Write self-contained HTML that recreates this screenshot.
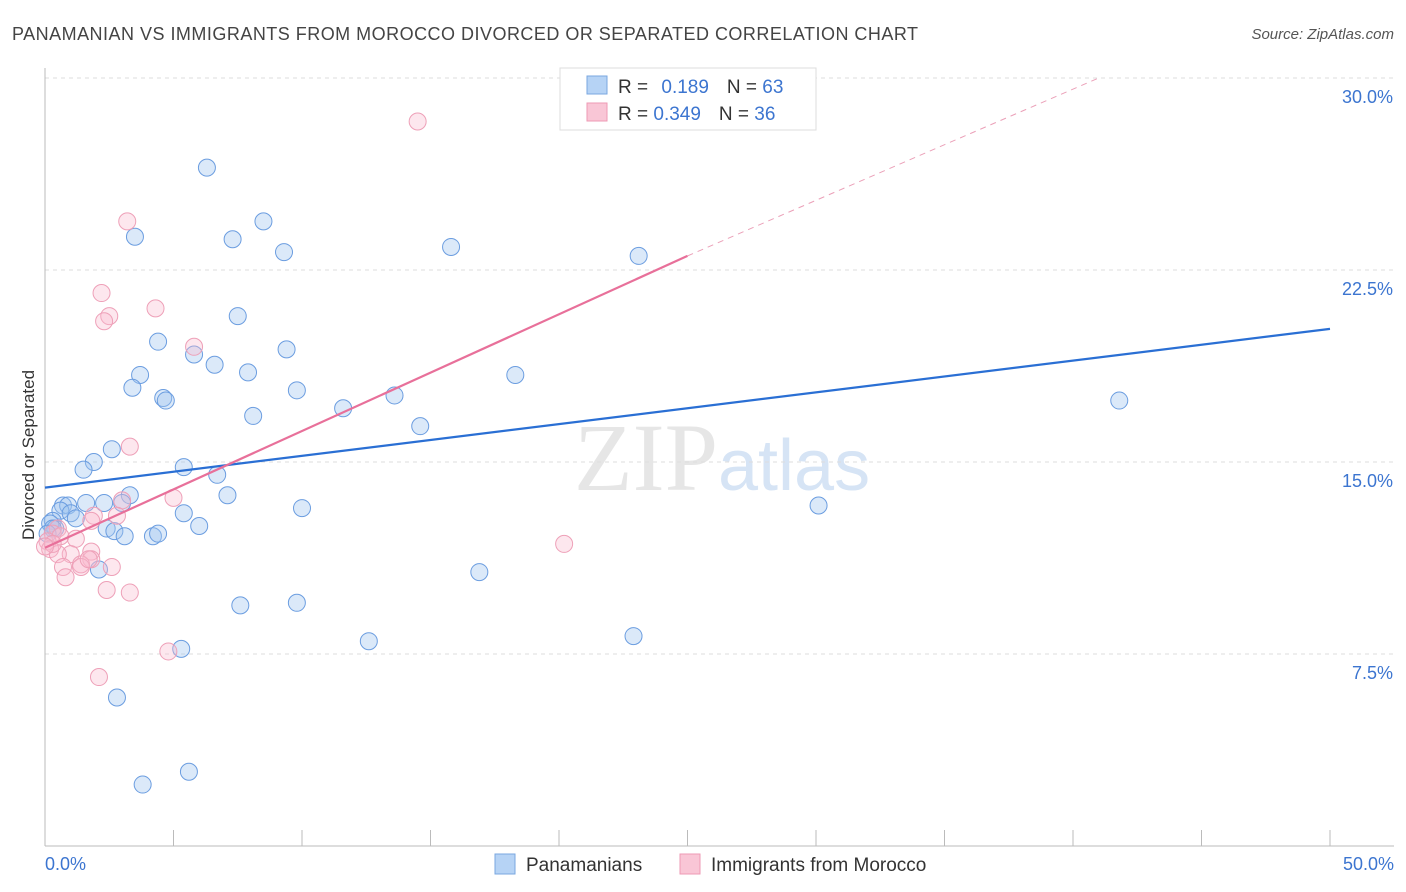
<!DOCTYPE html>
<html><head><meta charset="utf-8"><style>
body{margin:0;background:#fff;font-family:"Liberation Sans",sans-serif}
svg{display:block}
</style></head><body>
<svg id="chart" width="1406" height="892">
<text x="12" y="40" font-size="18" fill="#444" textLength="906">PANAMANIAN VS IMMIGRANTS FROM MOROCCO DIVORCED OR SEPARATED CORRELATION CHART</text>
<text x="1394" y="39" font-size="15" fill="#555" font-style="italic" text-anchor="end">Source: ZipAtlas.com</text>
<text x="718" y="490" font-size="96" fill="#e6e6e6" text-anchor="end" font-family="Liberation Serif">ZIP</text>
<text x="718" y="490" font-size="72" fill="#d6e4f5">atlas</text>
<g id="grid"></g><g id="axes"></g><g id="pts"></g><g id="lines"></g>
<text x="34" y="455" font-size="17" fill="#333" text-anchor="middle" transform="rotate(-90 34 455)">Divorced or Separated</text>
<g>
<rect x="560" y="68" width="256" height="62" fill="#fff" stroke="#ddd"/>
<rect x="587" y="76" width="20" height="18" fill="#b6d3f5" stroke="#7aa7e0"/>
<rect x="587" y="103" width="20" height="18" fill="#f9c6d6" stroke="#ee9ab4"/>
<text x="618" y="93" font-size="19" fill="#333">R = <tspan fill="#3c75d0" dx="8">0.189</tspan><tspan fill="#333" dx="18">N = </tspan><tspan fill="#3c75d0">63</tspan></text>
<text x="618" y="120" font-size="19" fill="#333">R = <tspan fill="#3c75d0">0.349</tspan><tspan fill="#333" dx="18">N = </tspan><tspan fill="#3c75d0">36</tspan></text>
</g>
<g>
<rect x="495" y="854" width="20" height="20" fill="#b6d3f5" stroke="#7aa7e0"/>
<text x="526" y="871" font-size="19" fill="#333">Panamanians</text>
<rect x="680" y="854" width="20" height="20" fill="#f9c6d6" stroke="#ee9ab4"/>
<text x="711" y="871" font-size="19" fill="#333">Immigrants from Morocco</text>
</g>
</svg>
<script>
const yTicks=[7.5,15,22.5,30];
const yTickLabels=["7.5%","15.0%","22.5%","30.0%"];
const xTickLabels=["0.0%","50.0%"];
const blueX=[6.3,8.5,3.5,7.3,9.3,15.8,23.1,7.5,4.4,9.4,5.8,6.6,7.9,3.7,18.3,3.4,9.8,4.6,4.7,13.6,11.6,8.1,14.6,41.8,2.6,1.9,1.5,5.4,6.7,3.3,7.1,0.7,0.9,1.6,2.3,3.0,30.1,10.0,0.6,1.0,5.4,0.3,1.2,0.2,6.0,2.4,2.7,3.1,4.2,4.4,0.4,2.1,7.6,9.8,16.9,12.6,22.9,5.3,2.8,5.6,3.8,0.3,0.1];
const blueY=[26.5,24.4,23.8,23.7,23.2,23.4,23.05,20.7,19.7,19.4,19.2,18.8,18.5,18.4,18.4,17.9,17.8,17.5,17.4,17.6,17.1,16.8,16.4,17.4,15.5,15.0,14.7,14.8,14.5,13.7,13.7,13.3,13.3,13.4,13.4,13.4,13.3,13.2,13.1,13.0,13.0,12.7,12.8,12.6,12.5,12.4,12.3,12.1,12.1,12.2,12.4,10.8,9.4,9.5,10.7,8.0,8.2,7.7,5.8,2.9,2.4,12.4,12.2];
const pinkX=[14.5,3.2,2.2,4.3,2.5,2.3,5.8,3.3,5.0,3.0,1.9,1.8,0.5,0.3,0.6,0.1,1.2,0.2,1.8,1.0,0.5,1.8,1.4,0.7,1.4,2.6,1.7,0.8,2.4,3.3,20.2,4.8,2.1,0.3,0.0,2.8];
const pinkY=[28.3,24.4,21.6,21.0,20.7,20.5,19.5,15.6,13.6,13.5,12.9,12.7,12.4,12.2,12.1,11.9,12.0,11.6,11.5,11.4,11.4,11.2,11.0,10.9,10.9,10.9,11.2,10.5,10.0,9.9,11.8,7.6,6.6,11.8,11.7,12.9];
const NS="http://www.w3.org/2000/svg";
const X=v=>45+v*25.7, Y=v=>846-v*25.6;
function mk(tag,attrs,parent){const e=document.createElementNS(NS,tag);for(const k in attrs)e.setAttribute(k,attrs[k]);parent.appendChild(e);return e;}
const grid=document.getElementById('grid'),axes=document.getElementById('axes'),pts=document.getElementById('pts'),lines=document.getElementById('lines');
yTicks.forEach((t,i)=>{
 const l=mk('line',{x1:45,x2:1394,y1:Y(t),y2:Y(t),stroke:'#ddd','stroke-dasharray':'4 4'},grid);
 
 
 const tx=mk('text',{x:1393,y:Y(t)+25,'font-size':18,fill:'#3c75d0','text-anchor':'end'},grid);
 tx.textContent=yTickLabels[i];
 
 
});
const ax=mk('line',{x1:45,x2:45,y1:68,y2:846,stroke:'#bbb'},axes);


const bx=mk('line',{x1:45,x2:1394,y1:846,y2:846,stroke:'#bbb'},axes);


for(let i=0;i<=10;i++){
 const t=mk('line',{x1:X(i*5),x2:X(i*5),y1:830,y2:846,stroke:'#bbb'},axes);
 
 
}
[[0,'start',45],[50,'end',1394]].forEach((d,i)=>{
 const tx=mk('text',{x:d[2],y:870,'font-size':18,fill:'#3c75d0','text-anchor':d[1]},axes);
 tx.textContent=xTickLabels[i];
 
 
});
blueX.forEach((v,i)=>{
 const c=mk('circle',{cx:X(v),cy:Y(blueY[i]),r:8.5,fill:'rgba(160,196,240,0.38)',stroke:'#6b9de0','stroke-width':1},pts);
 
 
});
pinkX.forEach((v,i)=>{
 const c=mk('circle',{cx:X(v),cy:Y(pinkY[i]),r:8.5,fill:'rgba(248,185,205,0.35)',stroke:'#eea0b8','stroke-width':1},pts);
 
 
});
const b=mk('line',{x1:X(0),y1:Y(14.0),x2:X(50),y2:Y(20.2),stroke:'#2a6fd4','stroke-width':2.2},lines);


const p=mk('line',{x1:X(0),y1:Y(11.65),x2:X(25),y2:Y(23.05),stroke:'#e8709a','stroke-width':2.2},lines);


const pd=mk('line',{x1:X(25),y1:Y(23.05),x2:X(41),y2:Y(30.0),stroke:'#eba0b8','stroke-width':1,'stroke-dasharray':'6 5'},lines);


</script>
</body></html>
